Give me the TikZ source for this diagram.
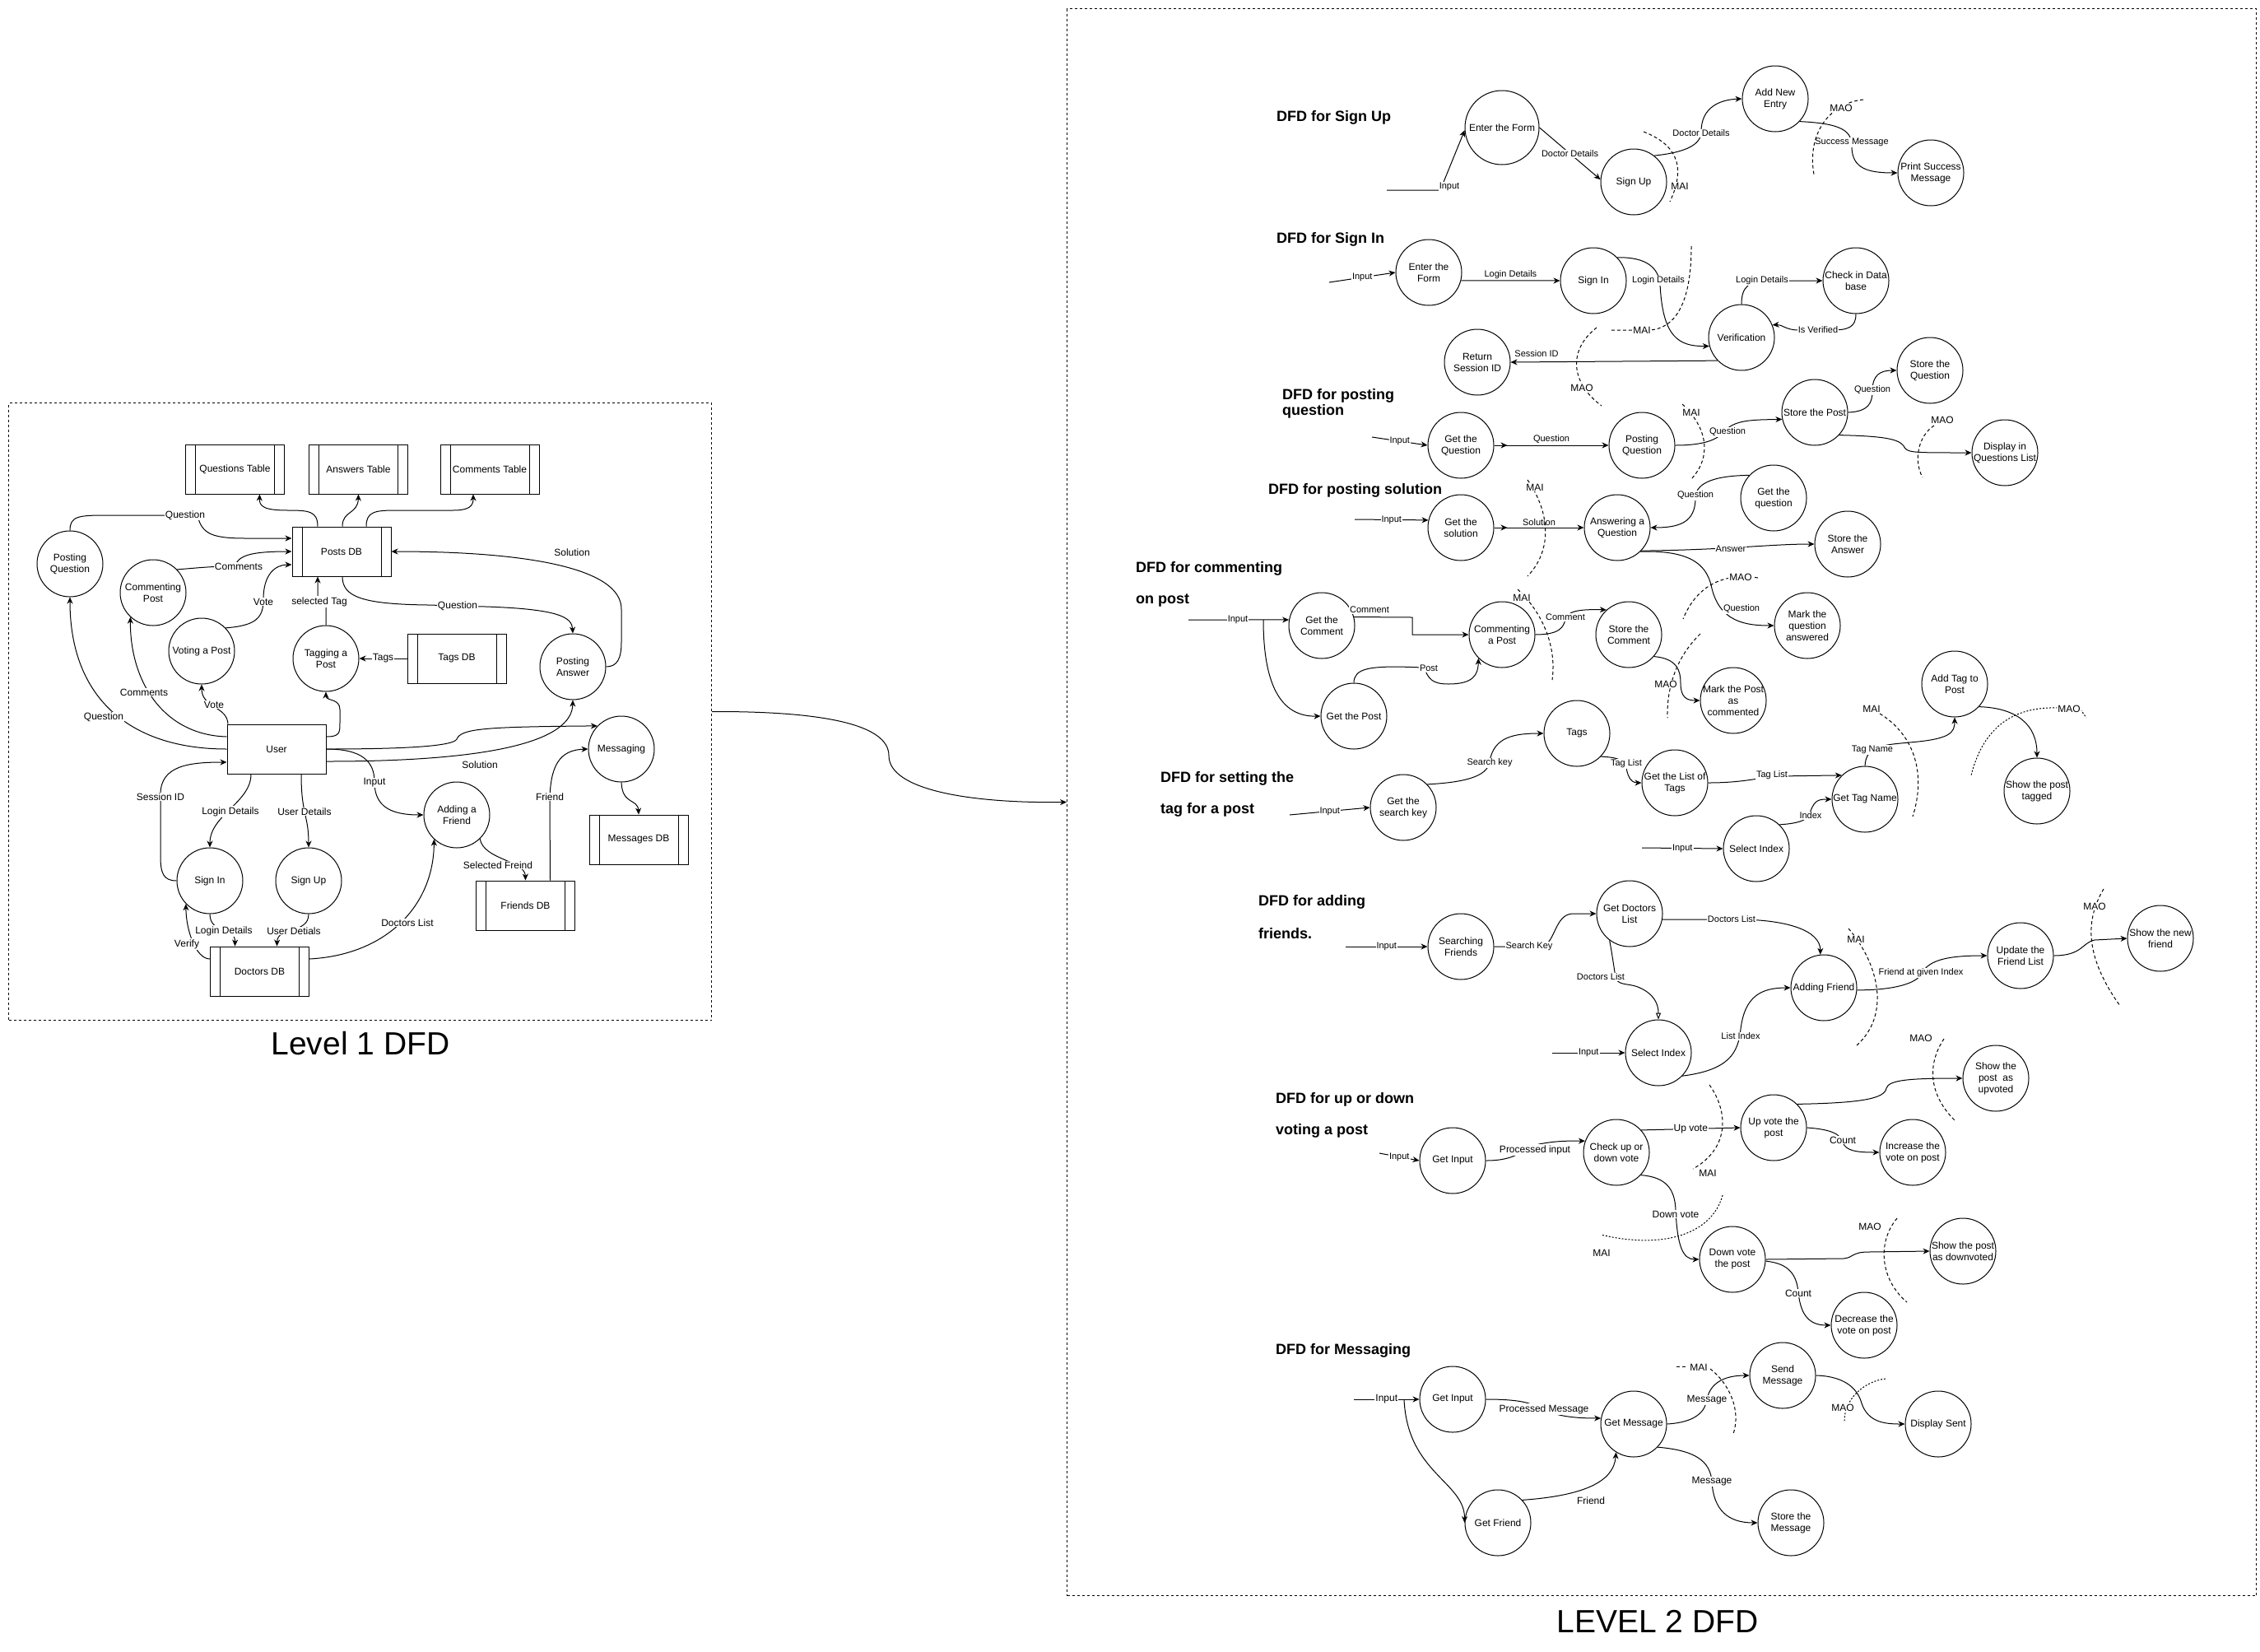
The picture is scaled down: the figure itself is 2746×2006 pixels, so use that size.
\documentclass[tikz,border=0pt]{standalone}
\usepackage{fontspec}
\setmainfont{Liberation Sans}
\usetikzlibrary{arrows.meta,decorations.markings}
\newcommand\fsz[2]{\fontsize{#1}{#2}\selectfont}
\tikzset{
 flow/.style={-{Stealth[length=8pt,width=7pt,inset=2.5pt]}, line width=1pt},
 oflow/.style={-{Triangle[open,length=8pt,width=6pt]}, line width=1pt},
 proc/.style={circle, draw, line width=1pt, minimum size=80pt, inner sep=-8pt, align=center, font=\fsz{12}{14}},
 store/.style={draw, line width=1pt, minimum width=120pt, minimum height=60pt, inner sep=0pt, align=center, font=\fsz{12}{14},
   path picture={\draw[line width=1pt] ([xshift=12pt]path picture bounding box.north west) -- ([xshift=12pt]path picture bounding box.south west);
                 \draw[line width=1pt] ([xshift=-12pt]path picture bounding box.north east) -- ([xshift=-12pt]path picture bounding box.south east);}},
 ent/.style={draw, line width=1pt, minimum width=120pt, minimum height=60pt, font=\fsz{12}{14}},
 lab/.style={fill=white, inner sep=1pt, font=\fsz{11}{13}},
 labl/.style={fill=white, inner sep=1pt, font=\fsz{12}{14}},
 nolab/.style={inner sep=1pt, font=\fsz{12}{14}},
 bound/.style={draw, line width=1pt, dash pattern=on 3pt off 3pt, inner sep=0pt, anchor=north west},
 dsh/.style={line width=1pt, dash pattern=on 4pt off 3pt},
 dtt/.style={line width=1pt, dash pattern=on 2pt off 2pt},
 ttl/.style={anchor=west, font=\fsz{18}{22}\bfseries, inner sep=0pt},
 big/.style={font=\fsz{39}{46}},
 tick/.style={postaction={decorate}, decoration={markings, mark=at position 16pt with {\arrow{Stealth[length=8pt,width=7pt,inset=2.5pt]}}}},
}
\begin{document}
\begin{tikzpicture}[x=1pt,y=-1pt]
\path[use as bounding box, fill=white] (0,0) rectangle (2746,2006);

% ================= LEVEL 1 =================
\node[bound, minimum width=854pt, minimum height=750pt] (L1) at (10,489) {};
\node[big] (t1) at (438,1268) {Level 1 DFD};

\node[store] (qt) at (285.5,570) {Questions Table};
\node[store] (at) at (435.5,570) {Answers Table};
\node[store] (ct) at (595,570) {Comments Table};
\node[store] (pdb) at (415,670) {Posts DB};
\node[store] (tdb) at (555,800) {Tags DB};
\node[proc] (pq) at (85,685) {Posting\\Question};
\node[proc] (cp) at (186,720) {Commenting\\Post};
\node[proc] (vp) at (245,791) {Voting a Post};
\node[proc] (tp) at (396,800) {Tagging a\\Post};
\node[proc] (pa) at (696,810) {Posting\\Answer};
\node[ent] (user) at (336,910) {User};
\node[proc] (msg) at (755,910) {Messaging};
\node[proc] (af) at (555,990) {Adding a\\Friend};
\node[proc] (si) at (255,1070) {Sign In};
\node[proc] (su) at (375,1070) {Sign Up};
\node[store] (mdb) at (776,1020) {Messages DB};
\node[store] (fdb) at (638.5,1100) {Friends DB};
\node[store] (ddb) at (315.5,1180) {Doctors DB};

\draw[flow] ([xshift=-29pt]pdb.north) .. controls (386,621) and (375,620) .. (350,620) .. controls (320,620) and (315,615) .. ([xshift=30pt]qt.south);
\draw[flow] ([xshift=1pt]pdb.north) .. controls (416,620) and (435,625) .. (at.south);
\draw[flow] ([xshift=30pt]pdb.north) .. controls (445,622) and (455,620) .. (480,620) -- (550,620) .. controls (570,620) and (575,615) .. ([xshift=-20pt]ct.south);

\draw[flow] (pq.north) .. controls (85,627) and (95,626) .. (130,626) -- (240,626) .. controls (245,650) and (260,654) .. (300,654) -- ([yshift=16pt]pdb.west);
\node[labl] (l1a) at (225,626) {Question};
\draw[flow] (cp.44) .. controls (240,690) and (255,688) .. (285,688) .. controls (290,676) and (300,670) .. (pdb.west);
\node[labl] (l1b) at (290,688) {Comments};
\draw[flow] (vp.44) .. controls (312,760) and (320,750) .. (320,728) .. controls (320,697) and (335,686) .. ([yshift=-16pt]pdb.west);
\node[labl] (l1c) at (320,731) {Vote};
\draw[flow] (tp.north) -- (396,736) -- (386,726) -- ([xshift=-29pt]pdb.south);
\node[labl] (l1d) at (388,731) {selected Tag};
\draw[flow] (tdb.west) -- (tp.east) node[labl, midway] {Tags};
\draw[flow] ([xshift=1pt]pdb.south) .. controls (416,725) and (440,734) .. (520,735) -- (590,737) .. controls (680,740) and (695,750) .. (pa.north);
\node[labl] (l1e) at (556,736) {Question};
\draw[flow] (pa.east) .. controls (750,810) and (755,800) .. (755,780) -- (755,740) .. controls (755,690) and (640,670) .. (pdb.east);
\node[nolab] (l1f) at (695,671) {Solution};

\draw[flow] (user.west) .. controls (160,910) and (85,850) .. (pq.south);
\node[labl] (l1g) at (126,871) {Question};
\draw[flow] ([yshift=15pt]user.west) .. controls (200,893) and (158,830) .. (cp.227);
\node[labl] (l1h) at (175,841) {Comments};
\draw[flow] ([xshift=-59pt]user.north) .. controls (276,858) and (245,860) .. (vp.south);
\node[labl] (l1i) at (260,856) {Vote};
\draw[flow] ([yshift=15pt]user.east) .. controls (413,895) and (413,890) .. (413,878) -- (413,862) .. controls (413,848) and (396,852) .. (tp.south);
\draw[flow] ([yshift=-15pt]user.east) .. controls (600,925) and (695,900) .. (pa.south);
\node[nolab] (l1j) at (583,929) {Solution};
\draw[flow] (user.east) .. controls (470,910) and (550,908) .. (555,898) .. controls (560,885) and (590,883) .. (msg.136);
\draw[flow] (user.east) .. controls (440,910) and (455,925) .. (455,950) .. controls (455,980) and (475,990) .. (af.west);
\node[labl] (l1k) at (455,951) {Input};
\draw[flow] ([xshift=-31pt]user.south) .. controls (305,975) and (255,990) .. (si.north);
\node[labl] (l1l) at (280,986) {Login Details};
\draw[flow] ([xshift=30pt]user.south) .. controls (366,990) and (375,990) .. (su.north);
\node[labl] (l1m) at (370,986) {User Details};
\draw[flow] (si.west) .. controls (198,1070) and (195,1060) .. (195,1040) -- (195,965) .. controls (195,930) and (230,926) .. ([yshift=-16pt]user.west);
\node[labl] (l1n) at (195,968) {Session ID};
\draw[flow] (si.south) .. controls (255,1135) and (286,1125) .. ([xshift=-30pt]ddb.north);
\node[labl] (l1o) at (272,1131) {Login Details};
\draw[flow] (su.south) .. controls (375,1135) and (337,1125) .. ([xshift=21pt]ddb.north);
\node[labl] (l1p) at (357,1131) {User Detials};
\draw[flow] ([yshift=15pt]ddb.west) .. controls (238,1165) and (226,1130) .. (si.224);
\node[labl] (l1q) at (227,1147) {Verify};
\draw[flow] ([yshift=15pt]ddb.east) .. controls (470,1160) and (527,1100) .. (af.227);
\node[labl] (l1r) at (495,1121) {Doctors List};
\draw[flow] (af.314) .. controls (588,1045) and (638,1045) .. (fdb.north);
\node[labl] (l1s) at (605,1051) {Selected Freind};
\draw[flow] ([xshift=30pt]fdb.north) -- (668,975) .. controls (668,930) and (680,911) .. (msg.west);
\node[labl] (l1t) at (668,968) {Friend};
\draw[flow] (msg.south) .. controls (756,978) and (775,970) .. (mdb.north);

% ================= LEVEL 2 =================
\node[bound, minimum width=1445pt, minimum height=1928pt] (L2) at (1296,10) {};
\node[big] (t2) at (2014,1970) {LEVEL 2 DFD};
\draw[flow] (L1.east) .. controls (1000,864) and (1080,880) .. (1080,918) .. controls (1080,960) and (1180,976) .. (L2.west);

% --- Sign Up
\node[ttl] (h1) at (1551,143) {DFD for Sign Up};
\node[proc, minimum size=90pt] (ef1) at (1825,155) {Enter the Form};
\node[proc] (su1) at (1985,221) {Sign Up};
\node[proc] (ane) at (2157,120) {Add New\\Entry};
\node[proc] (psm) at (2346,210) {Print Success\\Message};
\coordinate (in1) at (1685,231);
\draw[flow] (in1) -- (1750,231) -- (ef1.184);
\node[lab] (l2a) at (1761,227) {Input};
\draw[flow] (ef1.east) -- (su1.176) node[lab, midway] {Doctor Details};
\draw[flow] (su1.52) .. controls (2050,185) and (2067,175) .. (2067,160) .. controls (2067,130) and (2090,121) .. (ane.west);
\node[lab] (l2b) at (2067,162) {Doctor Details};
\draw[flow] (ane.317) .. controls (2240,150) and (2250,160) .. (2250,178) .. controls (2250,205) and (2270,210) .. (psm.west);
\node[lab] (l2c) at (2250,173) {Success Message};
\draw[dsh] (1997,160) .. controls (2035,175) and (2050,200) .. (2029,245);
\node[labl] (m1) at (2041,226) {MAI};
\draw[dsh] (2264,121) .. controls (2225,125) and (2195,160) .. (2204,212);
\node[labl] (m2) at (2237,131) {MAO};

% --- Sign In
\node[ttl] (h2) at (1551,291) {DFD for Sign In};
\node[proc] (ef2) at (1736,331) {Enter the\\Form};
\node[proc] (sin) at (1936,341) {Sign In};
\node[proc] (cdb) at (2255,341) {Check in Data\\base};
\node[proc] (ver) at (2116,410) {Verification};
\node[proc] (rsi) at (1795,440) {Return\\Session ID};
\coordinate (in2) at (1615,343);
\draw[flow] (in2) -- (ef2.west) node[lab, midway] {Input};
\draw[flow] (ef2.-14) -- (sin.west) node[lab, midway, above=1pt] {Login Details};
\draw[flow] (sin.44) .. controls (2000,312) and (2015,325) .. (2017,345) .. controls (2020,410) and (2040,421) .. (ver.195);
\node[lab] (l2d) at (2015,341) {Login Details};
\draw[flow] (ver.north) .. controls (2116,348) and (2125,341) .. (2150,341) -- (cdb.west);
\node[lab] (l2e) at (2141,341) {Login Details};
\draw[flow] (cdb.south) .. controls (2255,398) and (2245,401) .. (2225,401) -- (2185,401) .. controls (2170,401) and (2165,394) .. (ver.22);
\node[lab] (l2f) at (2209,401) {Is Verified};
\draw[flow] (ver.224) -- (rsi.east);
\node[lab] (l2g) at (1867,430) {Session ID};
\draw[dsh] (2055,299) .. controls (2055,360) and (2040,398) .. (2005,401) -- (1956,401);
\node[labl] (m3) at (1995,401) {MAI};
\draw[dsh] (1940,398) .. controls (1905,425) and (1908,465) .. (1946,493);
\node[labl] (m4) at (1922,471) {MAO};

% --- Posting question
\node[ttl] (h3a) at (1558,481) {DFD for posting};
\node[ttl] (h3b) at (1558,500) {question};
\node[proc] (gq) at (1775,541) {Get the\\Question};
\node[proc] (pqn) at (1995,541) {Posting\\Question};
\node[proc] (stp) at (2205,501) {Store the Post};
\node[proc] (sq) at (2345,450) {Store the\\Question};
\node[proc] (dql) at (2436,550) {Display in\\Questions List};
\coordinate (in3) at (1667,531);
\draw[flow] (in3) -- (gq.west) node[lab, midway] {Input};
\draw[flow, tick] (gq.east) -- (pqn.west) node[lab, midway, above=1pt] {Question};
\draw[flow] (pqn.east) .. controls (2080,541) and (2090,530) .. (2097,522) .. controls (2110,510) and (2130,510) .. (stp.192);
\node[lab] (l2h) at (2099,525) {Question};
\draw[flow] (stp.east) .. controls (2270,500) and (2275,490) .. (2275,475) .. controls (2275,455) and (2285,450) .. (sq.west);
\node[lab] (l2i) at (2275,474) {Question};
\draw[flow] (stp.317) .. controls (2300,530) and (2310,535) .. (2315,545) .. controls (2320,550) and (2330,550) .. (dql.west);
\draw[dsh] (2044,491) .. controls (2075,520) and (2080,555) .. (2055,582);
\node[labl] (m5) at (2055,501) {MAI};
\draw[dsh] (2350,517) .. controls (2330,530) and (2325,560) .. (2336,580);
\node[labl] (m6) at (2360,510) {MAO};

% --- Posting solution
\node[ttl] (h4) at (1541,596) {DFD for posting solution};
\node[proc] (gs) at (1775,641) {Get the\\solution};
\node[proc] (aq) at (1965,641) {Answering a\\Question};
\node[proc] (gqq) at (2155,605) {Get the\\question};
\node[proc] (sa) at (2245,661) {Store the\\Answer};
\node[proc] (mqa) at (2196,760) {Mark the\\question\\answered};
\coordinate (in4) at (1646,631);
\draw[flow] (in4) -- (gs.167) node[lab, midway] {Input};
\draw[flow, tick] (gs.east) -- (aq.west) node[lab, midway, above=1pt] {Solution};
\draw[flow] (gqq.137) .. controls (2075,578) and (2060,590) .. (2060,605) .. controls (2060,635) and (2040,641) .. (aq.east);
\node[lab] (l2j) at (2060,602) {Question};
\draw[flow] (aq.316) .. controls (2100,668) and (2150,661) .. (sa.west);
\node[lab] (l2k) at (2103,667) {Answer};
\draw[flow] (aq.314) .. controls (2060,668) and (2075,690) .. (2080,715) .. controls (2090,755) and (2120,760) .. (mqa.west);
\node[lab] (l2l) at (2116,740) {Question};
\draw[dsh] (2136,702) .. controls (2090,695) and (2060,715) .. (2045,752);
\node[labl] (m7) at (2115,701) {MAO};
\draw[dsh] (1856,583) .. controls (1885,625) and (1885,670) .. (1856,700);
\node[labl] (m8) at (1865,592) {MAI};

% --- Commenting
\node[ttl] (h5a) at (1380,691) {DFD for commenting};
\node[ttl] (h5b) at (1380,729) {on post};
\node[proc] (gc) at (1606,760) {Get the\\Comment};
\node[proc] (cap) at (1825,771) {Commenting\\a Post};
\node[proc] (sc) at (1979,771) {Store the\\Comment};
\node[proc] (mpc) at (2106,851) {Mark the Post\\as\\commented};
\node[proc] (gp) at (1645,870) {Get the Post};
\coordinate (in5) at (1444,753);
\coordinate (br5) at (1535,753);
\draw[flow] (in5) -- (gc.170);
\node[lab] (l2m) at (1504,753) {Input};
\draw[flow] (br5) .. controls (1535,830) and (1555,871) .. (gp.west);
\draw[flow] (gc.15) -- (1716,750) -- (1716,771) -- (cap.west);
\node[lab] (l2n) at (1664,741) {Comment};
\draw[flow] (gp.north) .. controls (1645,812) and (1665,810) .. (1700,810) -- (1730,811) .. controls (1736,825) and (1740,831) .. (1760,831) .. controls (1790,831) and (1796,820) .. (cap.225);
\node[lab] (l2o) at (1736,812) {Post};
\draw[flow] (cap.east) .. controls (1895,771) and (1900,762) .. (1902,752) .. controls (1905,742) and (1920,740) .. (sc.132);
\node[lab] (l2p) at (1902,750) {Comment};
\draw[flow] (sc.319) .. controls (2038,800) and (2042,815) .. (2042,830) .. controls (2042,848) and (2050,851) .. (mpc.west);
\draw[dsh] (1844,716) .. controls (1870,740) and (1892,780) .. (1886,826);
\node[labl] (m9) at (1849,726) {MAI};
\draw[dsh] (2066,770) .. controls (2040,795) and (2025,830) .. (2026,872);
\node[labl] (m10) at (2024,831) {MAO};

% --- Tags
\node[ttl] (h6a) at (1410,946) {DFD for setting the};
\node[ttl] (h6b) at (1410,984) {tag for a post};
\node[proc] (gsk) at (1705,981) {Get the\\search key};
\node[proc] (tags) at (1916,891) {Tags};
\node[proc] (glt) at (2035,951) {Get the List of\\Tags};
\node[proc] (gtn) at (2266,971) {Get Tag Name};
\node[proc] (sidx) at (2134,1031) {Select Index};
\node[proc] (atp) at (2375,831) {Add Tag to\\Post};
\node[proc] (spt) at (2475,961) {Show the post\\tagged};
\coordinate (in6) at (1567,990);
\draw[flow] (in6) -- (gsk.west) node[lab, midway] {Input};
\draw[flow] (gsk.44) .. controls (1790,950) and (1808,940) .. (1810,925) .. controls (1815,895) and (1840,891) .. (tags.west);
\node[lab] (l2q) at (1810,927) {Search key};
\draw[flow] (tags.316) .. controls (1968,920) and (1975,925) .. (1976,932) .. controls (1978,948) and (1985,951) .. (glt.west);
\node[lab] (l2r) at (1976,928) {Tag List};
\draw[flow] (glt.east) .. controls (2120,951) and (2140,944) .. (2160,943) -- (gtn.134);
\node[lab] (l2s) at (2153,942) {Tag List};
\draw[flow] (sidx.46) .. controls (2190,1000) and (2198,995) .. (2200,985) .. controls (2205,972) and (2210,971) .. (gtn.west);
\node[lab] (l2t) at (2200,991) {Index};
\coordinate (in7) at (1995,1030);
\draw[flow] (in7) -- (sidx.west) node[lab, midway] {Input};
\draw[flow] (gtn.north) .. controls (2267,905) and (2290,905) .. (2320,902) .. controls (2370,898) and (2375,890) .. (atp.south);
\node[lab] (l2u) at (2275,911) {Tag Name};
\draw[flow] (atp.317) .. controls (2450,860) and (2475,880) .. (spt.north);
\draw[dsh] (2284,867) .. controls (2322,890) and (2342,935) .. (2324,992);
\node[labl] (m11) at (2274,861) {MAI};
\draw[dtt] (2500,860) .. controls (2440,858) and (2408,890) .. (2395,942);
\draw[dtt] (2528,862) -- (2535,872);
\node[labl] (m12) at (2514,861) {MAO};

% --- Adding friends
\node[ttl] (h7a) at (1529,1096) {DFD for adding};
\node[ttl] (h7b) at (1529,1134) {friends.};
\node[proc] (sf) at (1775,1150) {Searching\\Friends};
\node[proc] (gdl) at (1980,1110) {Get Doctors\\List};
\node[proc] (adf) at (2216,1200) {Adding Friend};
\node[proc] (sif) at (2015,1279) {Select Index};
\node[proc] (ufl) at (2455,1161) {Update the\\Friend List};
\node[proc] (snf) at (2625,1140) {Show the new\\friend};
\coordinate (in8) at (1635,1150);
\draw[flow] (in8) -- (sf.west) node[lab, midway] {Input};
\draw[flow] (sf.east) -- (1872,1150) .. controls (1890,1148) and (1888,1112) .. (1910,1110) -- (gdl.west);
\node[lab] (l2v) at (1858,1150) {Search Key};
\draw[flow] (gdl.350) -- (2110,1117) .. controls (2170,1117) and (2212,1130) .. (adf.96);
\node[lab] (l2w) at (2104,1117) {Doctors List};
\draw[oflow] (gdl.233) .. controls (1960,1165) and (1962,1185) .. (1964,1190) .. controls (1968,1197) and (1980,1195) .. (1990,1199) .. controls (2010,1207) and (2015,1220) .. (sif.north);
\node[lab] (l2x) at (1945,1187) {Doctors List};
\draw[flow] (sif.316) .. controls (2100,1300) and (2112,1280) .. (2115,1250) .. controls (2120,1210) and (2140,1200) .. (adf.west);
\node[lab] (l2y) at (2115,1259) {List Index};
\coordinate (in9) at (1886,1279);
\draw[flow] (in9) -- (sif.west) node[lab, midway] {Input};
\draw[flow] (adf.-4) .. controls (2300,1203) and (2330,1195) .. (2335,1182) .. controls (2345,1165) and (2370,1161) .. (ufl.west);
\node[lab] (l2z) at (2334,1182) {Friend at given Index};
\draw[flow] (ufl.east) .. controls (2530,1161) and (2530,1145) .. (2545,1142) -- (snf.west);
\draw[dsh] (2246,1128) .. controls (2282,1170) and (2298,1232) .. (2256,1270);
\node[labl] (m13) at (2255,1141) {MAI};
\draw[dsh] (2556,1080) .. controls (2532,1120) and (2535,1165) .. (2576,1222);
\node[labl] (m14) at (2545,1101) {MAO};

% --- Voting
\node[ttl] (h8a) at (1550,1336) {DFD for up or down};
\node[ttl] (h8b) at (1550,1374) {voting a post};
\node[proc] (gi) at (1765,1410) {Get Input};
\node[proc] (cud) at (1964,1400) {Check up or\\down vote};
\node[proc] (uvp) at (2155,1370) {Up vote the\\post};
\node[proc] (ivp) at (2324,1400) {Increase the\\vote on post};
\node[proc] (spu) at (2425,1310) {Show the\\post\ \ as\\upvoted};
\node[proc] (dvp) at (2105,1530) {Down vote\\the post};
\node[proc] (spd) at (2385,1520) {Show the post\\as downvoted};
\node[proc] (dvo) at (2265,1610) {Decrease the\\vote on post};
\coordinate (in10) at (1676,1401);
\draw[flow] (in10) -- (gi.west) node[lab, midway] {Input};
\draw[flow] (gi.east) .. controls (1845,1410) and (1850,1395) .. (1870,1390) .. controls (1890,1386) and (1905,1386) .. (cud.160);
\node[labl] (l3a) at (1865,1397) {Processed input};
\draw[flow] (cud.42) -- (uvp.west) node[labl, midway] {Up vote};
\draw[flow] (cud.317) .. controls (2025,1430) and (2035,1445) .. (2036,1470) .. controls (2038,1515) and (2045,1530) .. (dvp.west);
\node[labl] (l3b) at (2036,1475) {Down vote};
\draw[flow] (uvp.45) .. controls (2260,1340) and (2290,1335) .. (2292,1322) .. controls (2295,1312) and (2320,1310) .. (spu.west);
\draw[flow] (uvp.east) .. controls (2225,1372) and (2237,1378) .. (2239,1388) .. controls (2243,1398) and (2255,1400) .. (ivp.west);
\node[labl] (l3c) at (2239,1385) {Count};
\draw[flow] (dvp.east) -- (2240,1529) .. controls (2252,1528) and (2250,1521) .. (2270,1521) -- (spd.west);
\draw[flow] (dvp.-3) .. controls (2175,1535) and (2183,1550) .. (2185,1570) .. controls (2188,1600) and (2200,1610) .. (dvo.west);
\node[labl] (l3d) at (2185,1571) {Count};
\draw[dsh] (2077,1318) .. controls (2100,1350) and (2102,1395) .. (2057,1420);
\node[nolab] (m15) at (2075,1425) {MAI};
\draw[dtt] (2093,1452) .. controls (2080,1500) and (2020,1518) .. (1945,1500);
\node[nolab] (m16) at (1946,1522) {MAI};
\draw[dsh] (2362,1262) .. controls (2340,1295) and (2345,1332) .. (2376,1362);
\node[nolab] (m17) at (2334,1261) {MAO};
\draw[dsh] (2305,1480) .. controls (2280,1510) and (2285,1555) .. (2317,1582);
\node[nolab] (m18) at (2272,1490) {MAO};

% --- Messaging
\node[ttl] (h9) at (1550,1641) {DFD for Messaging};
\node[proc] (mgi) at (1765,1700) {Get Input};
\node[proc] (gm) at (1985,1730) {Get Message};
\node[proc] (sm) at (2166,1671) {Send\\Message};
\node[proc] (ds) at (2355,1730) {Display Sent};
\node[proc] (gf) at (1820,1850) {Get Friend};
\node[proc] (stm) at (2176,1850) {Store the\\Message};
\coordinate (in11) at (1645,1700);
\coordinate (br11) at (1706,1700);
\draw[flow] (in11) -- (mgi.west) node[labl, midway] {Input};
\draw[flow] (br11) .. controls (1710,1790) and (1780,1800) .. (gf.west);
\draw[flow] (mgi.east) .. controls (1850,1700) and (1860,1705) .. (1872,1711) .. controls (1890,1720) and (1910,1723) .. (gm.170);
\node[labl] (l3e) at (1876,1712) {Processed Message};
\draw[flow] (gf.43) .. controls (1925,1817) and (1961,1800) .. (gm.238);
\node[nolab] (l3f) at (1933,1823) {Friend};
\draw[flow] (gm.east) .. controls (2060,1728) and (2072,1715) .. (2074,1700) .. controls (2078,1680) and (2095,1671) .. (sm.west);
\node[labl] (l3g) at (2074,1701) {Message};
\draw[flow] (gm.316) .. controls (2060,1762) and (2078,1775) .. (2080,1800) .. controls (2082,1835) and (2100,1850) .. (stm.west);
\node[labl] (l3h) at (2080,1800) {Message};
\draw[flow] (sm.east) .. controls (2245,1672) and (2258,1690) .. (2262,1705) .. controls (2270,1728) and (2290,1730) .. (ds.west);
\draw[dsh] (2078,1663) .. controls (2100,1680) and (2116,1712) .. (2106,1742);
\draw[dsh] (2037,1660) -- (2050,1660);
\node[labl] (m19) at (2064,1661) {MAI};
\draw[dtt] (2291,1675) .. controls (2265,1678) and (2240,1700) .. (2241,1728);
\node[labl] (m20) at (2239,1710) {MAO};
\end{tikzpicture}
\end{document}
